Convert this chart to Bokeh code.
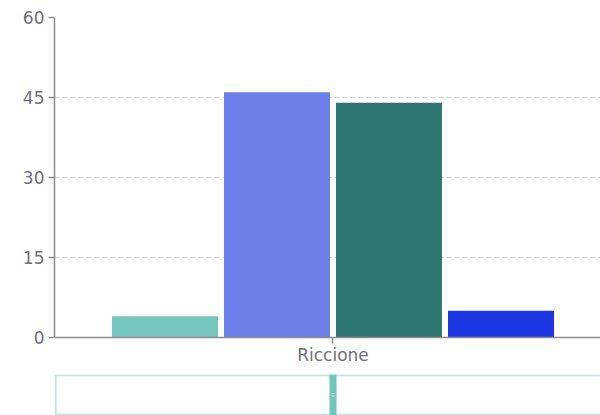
from bokeh.plotting import figure
from bokeh.models import Range1d, FixedTicker, ColumnDataSource
from bokeh.layouts import column
from bokeh.embed import file_html
from bokeh.resources import INLINE

# ---- data ----
categories = ["Riccione"]
series_values = [4, 46, 44, 5]
series_colors = ["#75c6bd", "#6b7eea", "#2f7871", "#1c36e3"]
y_ticks = [0, 15, 30, 45, 60]
zoom_window = [0, 100]  # data-zoom slider, percent

# ---- layout constants ----
BAR_W = 0.1903
BAR_GAP = 0.0108
X_START, X_END = -0.5, 0.4803
AXIS_COLOR = "#8c8c8c"
LABEL_COLOR = "#6e7079"
FONT = "DejaVu Sans"

n = len(series_values)
xs, tops, cols = [], [], []
for ci, cat in enumerate(categories):
    for i, v in enumerate(series_values):
        xs.append(ci + (i - (n - 1) / 2) * (BAR_W + BAR_GAP))
        tops.append(v)
        cols.append(series_colors[i])
src = ColumnDataSource(dict(x=xs, top=tops, color=cols))

x_range = Range1d(X_START, X_END)
p = figure(width=600, height=374, x_range=x_range, y_range=Range1d(0, 60),
           output_backend="svg", toolbar_location=None,
           min_border_left=54, min_border_right=0, min_border_top=17, min_border_bottom=37)
p.outline_line_color = None
p.background_fill_color = "white"
p.border_fill_color = "white"

p.vbar(x="x", top="top", width=BAR_W, color="color", source=src, line_color=None)

p.xgrid.grid_line_color = None
p.ygrid.grid_line_color = "#d2d2d2"
p.ygrid.grid_line_dash = "5 3"
p.ygrid.ticker = FixedTicker(ticks=y_ticks)

p.yaxis.ticker = FixedTicker(ticks=y_ticks)
p.xaxis.ticker = FixedTicker(ticks=list(range(len(categories))))
p.xaxis.major_label_overrides = {i: c for i, c in enumerate(categories)}

for ax in (p.xaxis[0], p.yaxis[0]):
    ax.axis_line_color = AXIS_COLOR
    ax.axis_line_width = 1.5
    ax.major_tick_line_color = AXIS_COLOR
    ax.major_tick_line_width = 1.5
    ax.minor_tick_line_color = None
    ax.major_tick_in = 0
    ax.major_tick_out = 6
    ax.major_label_text_font = FONT
    ax.major_label_text_font_size = "17px"
    ax.major_label_text_color = LABEL_COLOR
p.yaxis.major_label_standoff = 4
p.xaxis.major_label_standoff = 1

# ---- data-zoom slider ----
s = figure(width=600, height=41, x_range=x_range, y_range=Range1d(0, 41),
           output_backend="svg", toolbar_location=None,
           min_border_left=54, min_border_right=0, min_border_top=0, min_border_bottom=0)
s.outline_line_color = None
s.axis.visible = False
s.grid.grid_line_color = None
s.background_fill_color = "white"
s.border_fill_color = "white"

span = X_END - X_START
lo = X_START + 0.002
hi = X_START + (zoom_window[1] / 100.0) * 1.12 * span
s.quad(left=[lo], right=[hi], bottom=[0.8], top=[40.3],
       fill_color=None, line_color="#bfe5e0", line_width=2)
hc = 0.0
s.quad(left=[hc - 0.0063], right=[hc + 0.0063], bottom=[0], top=[41],
       fill_color="#6fc5bb", line_color=None)
s.segment(x0=[hc - 0.0025, hc - 0.0025], x1=[hc + 0.0025, hc + 0.0025],
          y0=[19.5, 22], y1=[19.5, 22], line_color="#d8f0ed", line_width=1)

layout = column(p, s, spacing=0)
open("out.html", "w").write(file_html(layout, INLINE))
